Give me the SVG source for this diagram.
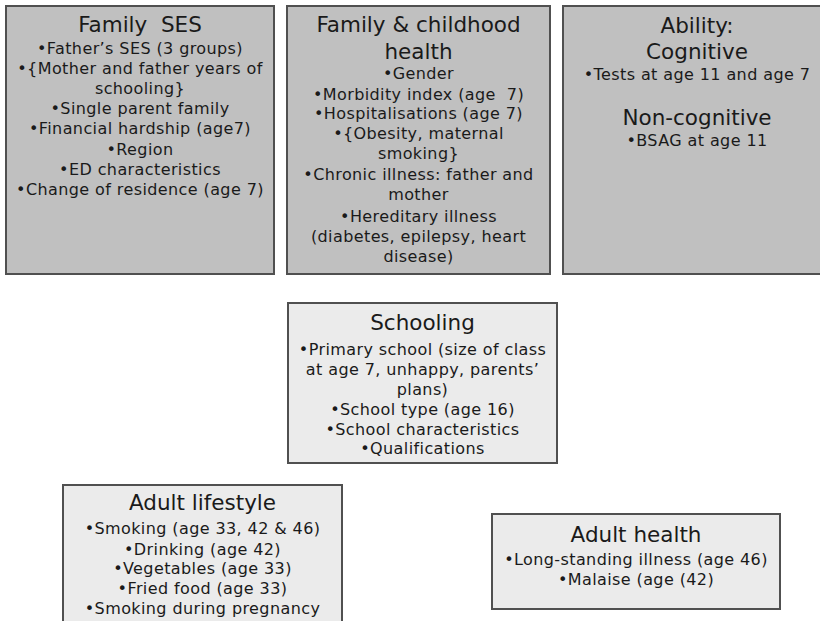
<svg xmlns="http://www.w3.org/2000/svg" width="820" height="621" viewBox="0 0 820 621">
<style>
.top{fill:#c0c0c0;stroke:#505050;stroke-width:2}
.low{fill:#ebebeb;stroke:#505050;stroke-width:2}
text{font-family:"DejaVu Sans",Verdana,sans-serif;fill:#1a1a1a;text-anchor:middle;white-space:pre}
.t{font-size:21.5px}
.b{font-size:16px;letter-spacing:0.4px}
</style>
<rect width="820" height="621" fill="#ffffff"/>
<g id="family-ses">
<rect class="top" x="6" y="6" width="268" height="268"/>
<text class="t" x="140" y="32" xml:space="preserve">Family  SES</text>
<text class="b" x="140" y="54">•Father’s SES (3 groups)</text>
<text class="b" x="140" y="74">•{Mother and father years of</text>
<text class="b" x="140" y="94">schooling}</text>
<text class="b" x="140" y="114">•Single parent family</text>
<text class="b" x="140" y="134">•Financial hardship (age7)</text>
<text class="b" x="140" y="155">•Region</text>
<text class="b" x="140" y="175">•ED characteristics</text>
<text class="b" x="140" y="195">•Change of residence (age 7)</text>
</g>
<g id="family-health">
<rect class="top" x="287" y="6" width="263" height="268"/>
<text class="t" x="418.5" y="32">Family &amp; childhood</text>
<text class="t" x="418.5" y="59">health</text>
<text class="b" x="418.5" y="79">•Gender</text>
<text class="b" x="418.5" y="100" xml:space="preserve">•Morbidity index (age  7)</text>
<text class="b" x="418.5" y="119">•Hospitalisations (age 7)</text>
<text class="b" x="418.5" y="139">•{Obesity, maternal</text>
<text class="b" x="418.5" y="159">smoking}</text>
<text class="b" x="418.5" y="180">•Chronic illness: father and</text>
<text class="b" x="418.5" y="200">mother</text>
<text class="b" x="418.5" y="222">•Hereditary illness</text>
<text class="b" x="418.5" y="242">(diabetes, epilepsy, heart</text>
<text class="b" x="418.5" y="262">disease)</text>
</g>
<g id="ability">
<rect class="top" x="563" y="6" width="268" height="268"/>
<text class="t" x="697" y="33">Ability:</text>
<text class="t" x="697" y="59">Cognitive</text>
<text class="b" x="697" y="80">•Tests at age 11 and age 7</text>
<text class="t" x="697" y="125">Non-cognitive</text>
<text class="b" x="697" y="146">•BSAG at age 11</text>
</g>
<g id="schooling">
<rect class="low" x="288" y="303" width="269" height="160"/>
<text class="t" x="422.5" y="330">Schooling</text>
<text class="b" x="422.5" y="355">•Primary school (size of class</text>
<text class="b" x="422.5" y="375">at age 7, unhappy, parents’</text>
<text class="b" x="422.5" y="395">plans)</text>
<text class="b" x="422.5" y="415">•School type (age 16)</text>
<text class="b" x="422.5" y="435">•School characteristics</text>
<text class="b" x="422.5" y="454">•Qualifications</text>
</g>
<g id="adult-lifestyle">
<rect class="low" x="63" y="485" width="279" height="150"/>
<text class="t" x="202.5" y="510">Adult lifestyle</text>
<text class="b" x="202.5" y="534">•Smoking (age 33, 42 &amp; 46)</text>
<text class="b" x="202.5" y="555">•Drinking (age 42)</text>
<text class="b" x="202.5" y="574">•Vegetables (age 33)</text>
<text class="b" x="202.5" y="594">•Fried food (age 33)</text>
<text class="b" x="202.5" y="614">•Smoking during pregnancy</text>
</g>
<g id="adult-health">
<rect class="low" x="492" y="514" width="288" height="95"/>
<text class="t" x="636" y="542">Adult health</text>
<text class="b" x="636" y="565">•Long-standing illness (age 46)</text>
<text class="b" x="636" y="585">•Malaise (age (42)</text>
</g>
<g id="connectors"/>
</svg>
